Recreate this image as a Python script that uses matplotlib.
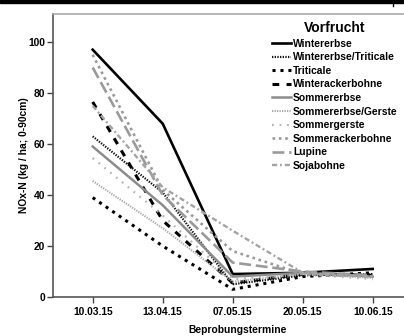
import matplotlib
matplotlib.use("Agg")
import matplotlib.pyplot as plt
from matplotlib.patches import Rectangle
from matplotlib.lines import Line2D

plt.rcParams['font.family'] = ['Liberation Sans', 'DejaVu Sans']

dates = ["10.03.15", "13.04.15", "07.05.15", "20.05.15", "10.06.15"]

wintererbse = [97, 68, 9, 9.5, 11]
wintererbse_triticale = [63, 41, 5, 8.5, 9]
triticale = [39, 20, 3, 8, 9.5]
winterackerbohne = [76.5, 30, 5.5, 9, 8.5]
sommererbse = [59, 36, 8, 9.5, 8]
sommererbse_gerste = [45.5, 27, 6, 9, 7.5]
sommergerste = [54.5, 32, 7, 9, 7]
sommerackerbohne = [95, 42, 18, 9, 8]
lupine = [90, 40, 13.5, 10, 8.5]
sojabohne = [75, 43, 26, 9.5, 8]

names = ["Wintererbse", "Wintererbse/Triticale", "Triticale", "Winterackerbohne",
         "Sommererbse", "Sommererbse/Gerste", "Sommergerste", "Sommerackerbohne",
         "Lupine", "Sojabohne"]
series = [wintererbse, wintererbse_triticale, triticale, winterackerbohne,
          sommererbse, sommererbse_gerste, sommergerste, sommerackerbohne,
          lupine, sojabohne]

# color, linestyle, linewidth
styles = [
    ("#000000", "-", 1.9),
    ("#111111", (0, (0.6, 0.6)), 1.6),
    ("#000000", (0, (1.0, 1.6)), 2.2),
    ("#000000", (0, (2.2, 2.4)), 2.2),
    ("#8c8c8c", "-", 1.8),
    ("#a8a8a8", (0, (0.6, 0.6)), 1.5),
    ("#b4b4b4", (0, (0.8, 2.6)), 1.6),
    ("#9a9a9a", (0, (1.0, 1.4)), 1.9),
    ("#9a9a9a", (0, (4.5, 1.8)), 1.9),
    ("#a4a4a4", (0, (2.2, 1.2, 0.8, 1.2)), 1.7),
]

W, H = 404, 336
fig = plt.figure(figsize=(W / 100, H / 100), dpi=100)
ax = fig.add_axes([53 / W, 39 / H, (423 - 53) / W, (297 - 14) / H])

x = list(range(len(dates)))
for name, vals, (c, ls, lw) in zip(names, series, styles):
    ax.plot(x, vals, color=c, linestyle=ls, linewidth=lw, label=name)

ax.set_xlim(-0.567, -0.567 + 370 / 70)
ax.set_ylim(0, 111)
ax.set_xticks(x)
ax.set_xticklabels(dates, fontsize=7.4, fontweight='bold')
ax.set_yticks([0, 20, 40, 60, 80, 100])
ax.set_yticklabels(["0", "20", "40", "60", "80", "100"], fontsize=7.4, fontweight='bold')
ax.tick_params(direction='out', length=4, width=1, color='#444444', pad=3)
ax.tick_params(axis='y', pad=1.5)

for s in ['left', 'bottom']:
    ax.spines[s].set_color('#555555')
    ax.spines[s].set_linewidth(1.2)
ax.spines['top'].set_color('#aaaaaa')
ax.spines['top'].set_linewidth(1.2)
ax.spines['right'].set_visible(False)

ax.set_xlabel("Beprobungstermine", fontsize=7.4, fontweight='bold', labelpad=6)
ax.set_ylabel("NOx-N (kg / ha; 0-90cm)", fontsize=7.4, fontweight='bold')
ax.yaxis.set_label_coords(-0.064, 0.5)

leg = ax.legend(loc='upper left', bbox_to_anchor=(268 / W, 1 - 17 / H), bbox_transform=fig.transFigure,
                frameon=False, title="Vorfrucht", handlelength=1.85, handletextpad=0.2,
                labelspacing=0.35, borderaxespad=0, prop={'size': 7.4, 'weight': 'bold'})
leg.get_title().set_fontsize(10)
leg.get_title().set_fontweight('bold')
leg._legend_box.align = "center"

# black bar at the top of the image
fig.patches.append(Rectangle((0, 1 - 3 / H), 1, 3 / H, transform=fig.transFigure,
                             color='black', zorder=5))
fig.lines.append(Line2D([393 / W, 393 / W], [1 - 6 / H, 1], transform=fig.transFigure,
                        color='black', linewidth=1))

fig.savefig("out.png", dpi=100)
